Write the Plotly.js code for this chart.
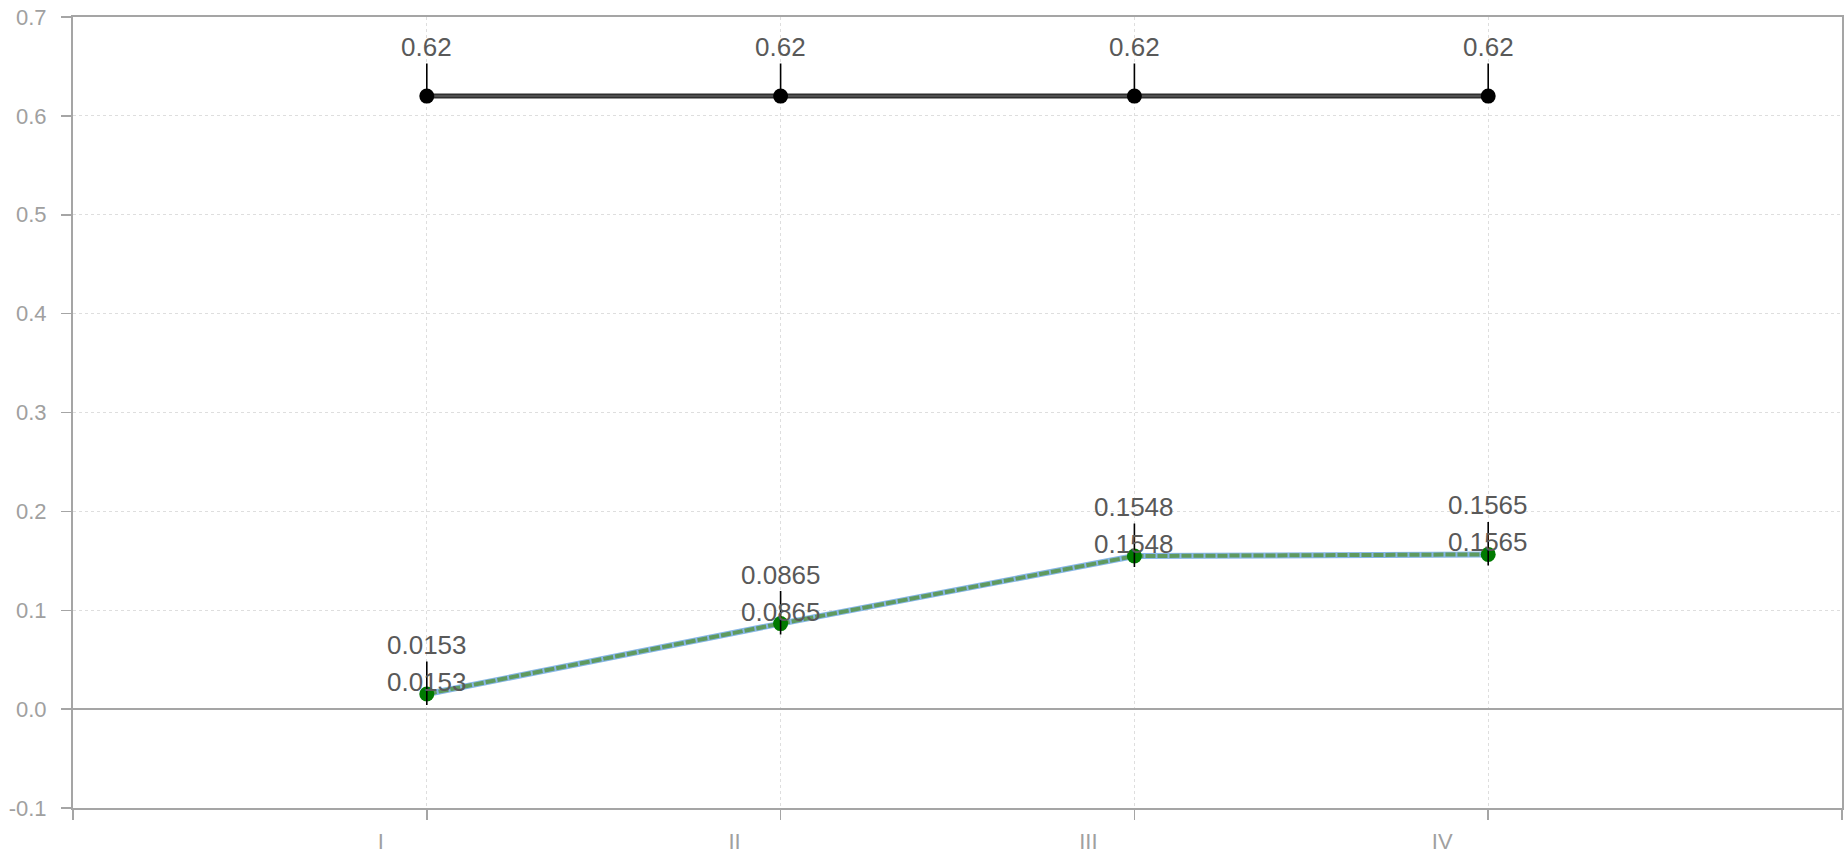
<!DOCTYPE html>
<html>
<head>
<meta charset="utf-8">
<script src="https://cdn.plot.ly/plotly-3.0.1.min.js"></script>
<style>html,body{margin:0;padding:0;background:#fff;}#chart{width:1844px;height:855px;}</style>
</head>
<body>
<div id="chart"></div>
<script>
// ---- data ----
const categories = ['I', 'II', 'III', 'IV'];
const seriesTop = [0.62, 0.62, 0.62, 0.62];
const seriesBlue = [0.0153, 0.0865, 0.1548, 0.1565];
const seriesGreen = [0.0153, 0.0865, 0.1548, 0.1565];
const yTickVals = [-0.1, 0.0, 0.1, 0.2, 0.3, 0.4, 0.5, 0.6, 0.7];
const yTickText = ['-0.1', '0.0', '0.1', '0.2', '0.3', '0.4', '0.5', '0.6', '0.7'];

// positions of categories on a linear axis (one slot of padding each side)
const xPos = categories.map((c, i) => i + 1);
const xTickVals = [0].concat(xPos, [categories.length + 1]);
const xTickText = [''].concat(categories, ['']);

const labelFont = {family: 'Liberation Sans, Arial, sans-serif', size: 26, color: '#595959'};
const tickFont = {family: 'Liberation Sans, Arial, sans-serif', size: 22, color: '#a0a0a0'};

const traces = [
  {x: xPos, y: seriesTop, mode: 'lines', line: {color: '#2e2e2e', width: 5}, hoverinfo: 'skip'},
  {x: xPos, y: seriesTop, mode: 'lines+markers', line: {color: '#505050', width: 2},
   marker: {color: '#000000', size: 15}},
  {x: xPos, y: seriesBlue, mode: 'lines', line: {color: '#86b6e6', width: 6}},
  {x: xPos, y: seriesGreen, mode: 'lines+markers', line: {color: '#5f9a5f', width: 4, dash: '10px,2px'},
   marker: {color: '#007a00', size: 15}}
];

const annotations = [];
function upperLabel(x, y, below) {
  annotations.push({x: x, y: y, xref: 'x', yref: 'y', text: String(y), font: labelFont,
    showarrow: true, arrowhead: 0, arrowwidth: 1.6, arrowcolor: '#000000',
    ax: 0, ay: -(49 + below), yshift: -below});
}
function lowerLabel(x, y) {
  annotations.push({x: x, y: y, xref: 'x', yref: 'y', text: String(y), font: labelFont,
    showarrow: false, yanchor: 'middle', xanchor: 'center', yshift: 12});
}
xPos.forEach((x, i) => upperLabel(x, seriesTop[i], 0));
xPos.forEach((x, i) => upperLabel(x, seriesBlue[i], 11));
xPos.forEach((x, i) => lowerLabel(x, seriesGreen[i]));

const layout = {
  width: 1844, height: 855,
  margin: {l: 73, r: 2, t: 17, b: 47, pad: 0},
  paper_bgcolor: '#ffffff', plot_bgcolor: '#ffffff',
  showlegend: false,
  xaxis: {
    type: 'linear', range: [0, categories.length + 1],
    tickvals: xTickVals, ticktext: xTickText,
    ticks: 'outside', ticklen: 10, tickwidth: 1.5, tickcolor: '#a5a5a5',
    ticklabelshift: -46, ticklabelstandoff: 3,
    tickfont: tickFont,
    showgrid: true, gridcolor: '#dedede', gridwidth: 1, griddash: 'dot',
    showline: true, linecolor: '#a5a5a5', linewidth: 2, mirror: true,
    zeroline: false, fixedrange: true
  },
  yaxis: {
    range: [-0.1, 0.7], tickvals: yTickVals, ticktext: yTickText,
    ticks: 'outside', ticklen: 10, tickwidth: 1.5, tickcolor: '#a5a5a5',
    ticklabelstandoff: 10,
    tickfont: tickFont,
    showgrid: true, gridcolor: '#dedede', gridwidth: 1, griddash: 'dot',
    showline: true, linecolor: '#a5a5a5', linewidth: 2, mirror: true,
    zeroline: true, zerolinecolor: '#a5a5a5', zerolinewidth: 2, fixedrange: true
  },
  annotations: annotations
};

Plotly.newPlot('chart', traces, layout, {displayModeBar: false, staticPlot: true});
</script>
</body>
</html>
